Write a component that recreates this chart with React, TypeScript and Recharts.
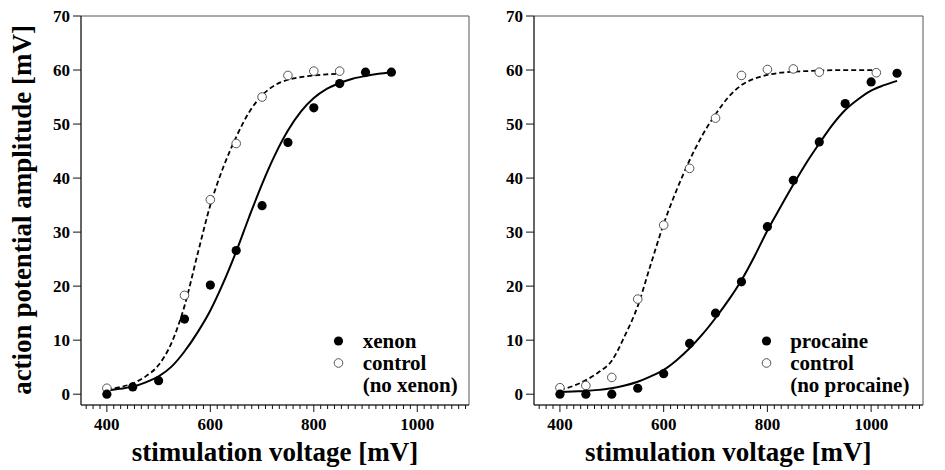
import React from "react";
import {
  ComposedChart,
  Line,
  Scatter,
  XAxis,
  YAxis,
  ReferenceArea,
  Legend,
} from "recharts";

// ---------- data: left panel (xenon) ----------
const xenonX = [400, 450, 500, 550, 600, 650, 700, 750, 800, 850, 900, 950];
const xenonY = [0, 1.35, 2.5, 13.9, 20.2, 26.6, 34.9, 46.6, 53.0, 57.5, 59.6, 59.6];

const ctrlXenonX = [400, 550, 600, 650, 700, 750, 800, 850];
const ctrlXenonY = [1.1, 18.3, 36.0, 46.4, 55.0, 59.0, 59.8, 59.8];

const xenonFitX = [400, 425, 450, 475, 500, 525, 550, 575, 600, 625, 650, 675, 700, 725, 750, 775, 800, 825, 850, 875, 900, 925, 950];
const xenonFitY = [0.7, 1.0, 1.4, 2.2, 3.3, 5.1, 7.9, 11.4, 15.5, 20.6, 26.4, 32.8, 38.9, 44.3, 48.8, 52.3, 54.8, 56.5, 57.6, 58.4, 58.9, 59.3, 59.6];

const ctrlXenonFitX = [400, 425, 450, 475, 500, 525, 550, 575, 600, 625, 650, 675, 700, 725, 750, 775, 800, 825, 850];
const ctrlXenonFitY = [0.9, 1.3, 2.0, 3.3, 5.4, 9.5, 16.3, 25.8, 35.0, 42.0, 47.6, 52.2, 55.3, 57.2, 58.2, 58.7, 59.0, 59.2, 59.3];

// ---------- data: right panel (procaine) ----------
const procX = [400, 450, 500, 550, 600, 650, 700, 750, 800, 850, 900, 950, 1000, 1050];
const procY = [0, 0, 0, 1.1, 3.8, 9.4, 15.0, 20.8, 31.0, 39.6, 46.7, 53.8, 57.8, 59.4];

const ctrlProcX = [400, 450, 500, 550, 600, 650, 700, 750, 800, 850, 900, 1010];
const ctrlProcY = [1.2, 1.6, 3.1, 17.6, 31.3, 41.8, 51.1, 59.0, 60.1, 60.2, 59.6, 59.5];

const procFitX = [400, 425, 450, 475, 500, 525, 550, 575, 600, 625, 650, 675, 700, 725, 750, 775, 800, 825, 850, 875, 900, 925, 950, 975, 1000, 1025, 1050];
const procFitY = [0.4, 0.5, 0.6, 0.8, 1.1, 1.6, 2.3, 3.3, 4.5, 6.3, 8.5, 11.1, 14.1, 17.4, 21.1, 25.5, 30.3, 34.6, 38.8, 42.8, 46.4, 49.8, 52.6, 54.6, 56.2, 57.2, 58.0];

const ctrlProcFitX = [400, 425, 450, 475, 500, 525, 550, 575, 600, 625, 650, 675, 700, 725, 750, 775, 800, 825, 850, 875, 900, 950, 1010];
const ctrlProcFitY = [0.8, 1.5, 2.6, 4.1, 6.2, 10.8, 16.3, 24.0, 31.5, 37.8, 43.3, 48.0, 51.8, 55.0, 57.2, 58.4, 59.1, 59.5, 59.7, 59.8, 59.9, 60.0, 60.0];

// ---------- axes ----------
const yTicks = [0, 10, 20, 30, 40, 50, 60, 70];
const xMajorLabels = [400, 600, 800, 1000];
const xDomain: [number, number] = [350, 1100];
const yDomain: [number, number] = [-2, 70];
const minorStep = 200 / 15;
const xTicks = Array.from({ length: 56 }, (_, i) => 360 + i * minorStep);

const FONT = "'Liberation Serif', 'Times New Roman', serif";

const zip = (xs: number[], ys: number[]) => xs.map((x, i) => ({ x, y: ys[i] }));

const XTick = (props: any) => {
  const { x, y, payload } = props;
  const v = payload.value;
  const major = xMajorLabels.some((m) => Math.abs(m - v) < 0.01);
  return (
    <g>
      <line x1={x} x2={x} y1={y} y2={y + (major ? 7 : 4)} stroke="#111" strokeWidth={1} />
      {major && (
        <text
          x={x}
          y={y + 25}
          textAnchor="middle"
          fontFamily={FONT}
          fontWeight="bold"
          fontSize={17}
          fill="#000"
        >
          {Math.round(v)}
        </text>
      )}
    </g>
  );
};

const FilledDot = (p: any) => <circle cx={p.cx} cy={p.cy} r={4.6} fill="#000" />;
const OpenDot = (p: any) => (
  <circle cx={p.cx} cy={p.cy} r={4.3} fill="#fff" stroke="#555" strokeWidth={1} />
);

const LegendBox = ({ filledLabel, ctrlLabel, noLabel }: any) => (
  <div
    style={{
      fontFamily: FONT,
      fontWeight: "bold",
      fontSize: 21,
      lineHeight: "22px",
      color: "#000",
    }}
  >
    {[
      { m: "filled", t: filledLabel },
      { m: "open", t: ctrlLabel },
      { m: "none", t: noLabel },
    ].map((r, i) => (
      <div key={i} style={{ display: "flex", alignItems: "center", height: 22, whiteSpace: "nowrap" }}>
        <svg width={19} height={22} style={{ flex: "none" }}>
          {r.m === "filled" && <circle cx={9.5} cy={11} r={4.6} fill="#000" />}
          {r.m === "open" && <circle cx={9.5} cy={11} r={4.3} fill="#fff" stroke="#555" strokeWidth={1} />}
        </svg>
        <span style={{ marginLeft: 14.7 }}>{r.t}</span>
      </div>
    ))}
  </div>
);

type PanelProps = {
  width: number;
  margin: { top: number; right: number; bottom: number; left: number };
  filled: { x: number; y: number }[];
  open: { x: number; y: number }[];
  fit: { x: number; y: number }[];
  ctrlFit: { x: number; y: number }[];
  legendLeft: number;
  labels: [string, string, string];
  xLabelX: number;
  showYLabel: boolean;
};

const Panel = (p: PanelProps) => (
  <ComposedChart width={p.width} height={470} margin={p.margin}>
    <XAxis
      dataKey="x"
      type="number"
      domain={xDomain}
      ticks={xTicks}
      interval={0}
      allowDataOverflow
      height={30}
      tickLine={false}
      tickSize={0}
      tickMargin={0}
      axisLine={{ stroke: "#222", strokeWidth: 1 }}
      tick={<XTick />}
      label={() => (
        <text
          x={p.xLabelX}
          y={461}
          textAnchor="middle"
          fontFamily={FONT}
          fontWeight="bold"
          fontSize={27}
          fill="#000"
        >
          stimulation voltage [mV]
        </text>
      )}
    />
    <YAxis
      dataKey="y"
      type="number"
      domain={yDomain}
      ticks={yTicks}
      interval={0}
      allowDataOverflow
      width={40}
      tickSize={8}
      tickMargin={3}
      tickLine={{ stroke: "#111" }}
      axisLine={{ stroke: "#222", strokeWidth: 1 }}
      tick={{ fontFamily: FONT, fontWeight: "bold", fontSize: 17, fill: "#000" }}
      label={
        p.showYLabel
          ? () => (
              <text
                x={31}
                y={210}
                transform="rotate(-90 31 210)"
                textAnchor="middle"
                fontFamily={FONT}
                fontWeight="bold"
                fontSize={27}
                fill="#000"
              >
                action potential amplitude [mV]
              </text>
            )
          : undefined
      }
    />
    <ReferenceArea
      x1={xDomain[0]}
      x2={xDomain[1]}
      y1={yDomain[0]}
      y2={yDomain[1]}
      fill="none"
      stroke="#555"
      strokeWidth={1}
      ifOverflow="visible"
    />
    <Line
      data={p.ctrlFit}
      dataKey="y"
      type="monotone"
      stroke="#000"
      strokeWidth={1.8}
      strokeDasharray="5 3"
      dot={false}
      activeDot={false}
      isAnimationActive={false}
      legendType="none"
    />
    <Line
      data={p.fit}
      dataKey="y"
      type="monotone"
      stroke="#000"
      strokeWidth={2}
      dot={false}
      activeDot={false}
      isAnimationActive={false}
      legendType="none"
    />
    <Scatter data={p.open} dataKey="y" shape={<OpenDot />} isAnimationActive={false} />
    <Scatter data={p.filled} dataKey="y" shape={<FilledDot />} isAnimationActive={false} />
    <Legend
      layout="vertical"
      align="center"
      verticalAlign="middle"
      wrapperStyle={{ position: "absolute", left: p.legendLeft, top: 330, width: "auto", height: "auto" }}
      content={() => (
        <LegendBox filledLabel={p.labels[0]} ctrlLabel={p.labels[1]} noLabel={p.labels[2]} />
      )}
    />
  </ComposedChart>
);

export default function App() {
  return (
    <div
      style={{
        position: "absolute",
        left: 0,
        top: 0,
        width: 945,
        height: 470,
        background: "#fff",
        overflow: "hidden",
      }}
    >
      <div style={{ position: "absolute", left: 0, top: 0 }}>
        <Panel
          width={472}
          margin={{ top: 16, right: 3, bottom: 35, left: 41 }}
          filled={zip(xenonX, xenonY)}
          open={zip(ctrlXenonX, ctrlXenonY)}
          fit={zip(xenonFitX, xenonFitY)}
          ctrlFit={zip(ctrlXenonFitX, ctrlXenonFitY)}
          legendLeft={329}
          labels={["xenon", "control", "(no xenon)"]}
          xLabelX={275}
          showYLabel={true}
        />
      </div>
      <div style={{ position: "absolute", left: 472, top: 0 }}>
        <Panel
          width={473}
          margin={{ top: 16, right: 22, bottom: 35, left: 22 }}
          filled={zip(procX, procY)}
          open={zip(ctrlProcX, ctrlProcY)}
          fit={zip(procFitX, procFitY)}
          ctrlFit={zip(ctrlProcFitX, ctrlProcFitY)}
          legendLeft={284.5}
          labels={["procaine", "control", "(no procaine)"]}
          xLabelX={256.3}
          showYLabel={false}
        />
      </div>
    </div>
  );
}
